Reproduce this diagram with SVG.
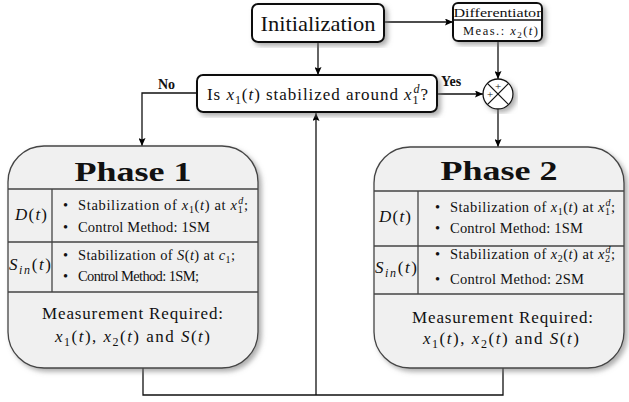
<svg xmlns="http://www.w3.org/2000/svg" width="629" height="402" viewBox="0 0 629 402" font-family="'Liberation Serif', 'DejaVu Serif', serif">
<defs>
<marker id="arr" markerWidth="9" markerHeight="7" refX="8" refY="3.5" orient="auto" markerUnits="userSpaceOnUse">
<path d="M0,0 L8,3.5 L0,7 L1.5,3.5 z" fill="#000"/>
</marker>
<filter id="sh" x="-10%" y="-10%" width="125%" height="125%">
<feDropShadow dx="3" dy="3" stdDeviation="2.5" flood-color="#777" flood-opacity="0.6"/>
</filter>
</defs>
<style>
text{font-family:'Liberation Serif','DejaVu Serif',serif;fill:#111}
.box{fill:#fff;stroke:#111;stroke-width:2}
.ph{fill:#f0f0f0;stroke:#444;stroke-width:1.3}
.sep{stroke:#444;stroke-width:1.3;fill:none}
.con{stroke:#111;stroke-width:1.3;fill:none}
.it{font-style:italic}
.bt{font-size:14.5px}
.ttl{font-size:28px;font-weight:bold}
.lbl{font-size:14px;font-weight:bold}
.mr{font-size:17px}
</style>
<rect width="629" height="402" fill="#fff"/>

<g id="connectors">
<line class="con" x1="384" y1="22" x2="453" y2="22" marker-end="url(#arr)"/>
<line class="con" x1="318" y1="42" x2="318" y2="75" marker-end="url(#arr)"/>
<line class="con" x1="498" y1="41" x2="498" y2="79" marker-end="url(#arr)"/>
<line class="con" x1="437" y1="94" x2="483" y2="94" marker-end="url(#arr)"/>
<line class="con" x1="498" y1="109" x2="498" y2="147" marker-end="url(#arr)"/>
<polyline class="con" points="197,93 142,93 142,146" marker-end="url(#arr)"/>
<polyline class="con" points="143,368 143,395 503,395 503,368"/>
<line class="con" x1="316" y1="395" x2="316" y2="113" marker-end="url(#arr)"/>
<text class="lbl" x="158" y="89">No</text>
<text class="lbl" x="441" y="86">Yes</text>
</g>

<g id="init">
<rect class="box" x="252" y="4" width="132" height="38" rx="6" filter="url(#sh)"/>
<text x="318" y="31" font-size="22" text-anchor="middle" textLength="115" lengthAdjust="spacingAndGlyphs">Initialization</text>
</g>

<g id="differentiator">
<rect class="box" x="453" y="3" width="89" height="38" rx="5" filter="url(#sh)"/>
<line x1="453" y1="20" x2="542" y2="20" stroke="#111" stroke-width="1.3"/>
<text x="497.5" y="17" font-size="13" text-anchor="middle" textLength="88" lengthAdjust="spacingAndGlyphs">Differentiator</text>
<text x="463" y="35" font-size="12.5" textLength="75">Meas.: <tspan class="it">x</tspan><tspan font-size="9" baseline-shift="-3">2</tspan>(<tspan class="it">t</tspan>)</text>
</g>

<g id="decision">
<rect class="box" x="197" y="75" width="240" height="37" rx="6" filter="url(#sh)"/>
<text x="207" y="100" font-size="17" textLength="221">Is <tspan class="it">x</tspan><tspan font-size="12" baseline-shift="-4">1</tspan>(<tspan class="it">t</tspan>) stabilized around <tspan class="it">x</tspan><tspan font-size="12" baseline-shift="-4">1</tspan><tspan class="it" font-size="12" baseline-shift="7" dx="-6">d</tspan>?</text>
</g>

<g id="sum">
<circle cx="498" cy="94" r="15" fill="#fff" stroke="#111" stroke-width="1.3" filter="url(#sh)"/>
<line x1="487.4" y1="83.4" x2="508.6" y2="104.6" stroke="#111" stroke-width="1.2"/>
<line x1="508.6" y1="83.4" x2="487.4" y2="104.6" stroke="#111" stroke-width="1.2"/>
<text x="498" y="90" font-size="11" text-anchor="middle">+</text>
<text x="490" y="98" font-size="11" text-anchor="middle">+</text>
</g>

<g id="phase1">
<rect class="ph" x="8" y="146" width="250" height="222" rx="36" ry="36" filter="url(#sh)"/>
<text class="ttl" x="133" y="181" text-anchor="middle" textLength="117" lengthAdjust="spacingAndGlyphs">Phase 1</text>
<line class="sep" x1="8" y1="189" x2="258" y2="189"/>
<line class="sep" x1="8" y1="242" x2="258" y2="242"/>
<line class="sep" x1="8" y1="292" x2="258" y2="292"/>
<line class="sep" x1="52" y1="189" x2="52" y2="292"/>
<text x="15" y="220" font-size="17" textLength="32"><tspan class="it">D</tspan>(<tspan class="it">t</tspan>)</text>
<text x="9" y="270" font-size="17" textLength="42"><tspan class="it">S</tspan><tspan class="it" font-size="12" baseline-shift="-4">in</tspan>(<tspan class="it">t</tspan>)</text>
<text class="bt" x="63" y="210">•</text>
<text class="bt" x="78" y="210" textLength="170">Stabilization of <tspan class="it">x</tspan><tspan font-size="10" baseline-shift="-3">1</tspan>(<tspan class="it">t</tspan>) at <tspan class="it">x</tspan><tspan font-size="10" baseline-shift="-3">1</tspan><tspan class="it" font-size="10" baseline-shift="6" dx="-5">d</tspan>;</text>
<text class="bt" x="63" y="232">•</text>
<text class="bt" x="78" y="232" textLength="132">Control Method: 1SM</text>
<text class="bt" x="63" y="260">•</text>
<text class="bt" x="78" y="260" textLength="157">Stabilization of <tspan class="it">S</tspan>(<tspan class="it">t</tspan>) at <tspan class="it">c</tspan><tspan font-size="10" baseline-shift="-3">1</tspan>;</text>
<text class="bt" x="63" y="281">•</text>
<text class="bt" x="78" y="281" textLength="121">Control Method: 1SM;</text>
<text class="mr" x="42" y="319" textLength="181">Measurement Required:</text>
<text class="mr" x="55" y="342" textLength="155"><tspan class="it">x</tspan><tspan font-size="12" baseline-shift="-4">1</tspan>(<tspan class="it">t</tspan>), <tspan class="it">x</tspan><tspan font-size="12" baseline-shift="-4">2</tspan>(<tspan class="it">t</tspan>) and <tspan class="it">S</tspan>(<tspan class="it">t</tspan>)</text>
</g>

<g id="phase2">
<rect class="ph" x="374" y="147" width="250" height="221" rx="36" ry="36" filter="url(#sh)"/>
<text class="ttl" x="499" y="180" text-anchor="middle" textLength="117" lengthAdjust="spacingAndGlyphs">Phase 2</text>
<line class="sep" x1="374" y1="191" x2="624" y2="191"/>
<line class="sep" x1="374" y1="246" x2="624" y2="246"/>
<line class="sep" x1="374" y1="294" x2="624" y2="294"/>
<line class="sep" x1="418" y1="191" x2="418" y2="294"/>
<text x="379" y="222" font-size="17" textLength="32"><tspan class="it">D</tspan>(<tspan class="it">t</tspan>)</text>
<text x="375" y="273" font-size="17" textLength="42"><tspan class="it">S</tspan><tspan class="it" font-size="12" baseline-shift="-4">in</tspan>(<tspan class="it">t</tspan>)</text>
<text class="bt" x="435" y="212">•</text>
<text class="bt" x="450" y="212" textLength="165">Stabilization of <tspan class="it">x</tspan><tspan font-size="10" baseline-shift="-3">1</tspan>(<tspan class="it">t</tspan>) at <tspan class="it">x</tspan><tspan font-size="10" baseline-shift="-3">1</tspan><tspan class="it" font-size="10" baseline-shift="6" dx="-5">d</tspan>;</text>
<text class="bt" x="435" y="233">•</text>
<text class="bt" x="450" y="233" textLength="133">Control Method: 1SM</text>
<text class="bt" x="435" y="259">•</text>
<text class="bt" x="450" y="259" textLength="165">Stabilization of <tspan class="it">x</tspan><tspan font-size="10" baseline-shift="-3">2</tspan>(<tspan class="it">t</tspan>) at <tspan class="it">x</tspan><tspan font-size="10" baseline-shift="-3">2</tspan><tspan class="it" font-size="10" baseline-shift="6" dx="-5">d</tspan>;</text>
<text class="bt" x="435" y="284">•</text>
<text class="bt" x="450" y="284" textLength="134">Control Method: 2SM</text>
<text class="mr" x="412" y="323" textLength="181">Measurement Required:</text>
<text class="mr" x="423" y="344" textLength="156"><tspan class="it">x</tspan><tspan font-size="12" baseline-shift="-4">1</tspan>(<tspan class="it">t</tspan>), <tspan class="it">x</tspan><tspan font-size="12" baseline-shift="-4">2</tspan>(<tspan class="it">t</tspan>) and <tspan class="it">S</tspan>(<tspan class="it">t</tspan>)</text>
</g>
</svg>
